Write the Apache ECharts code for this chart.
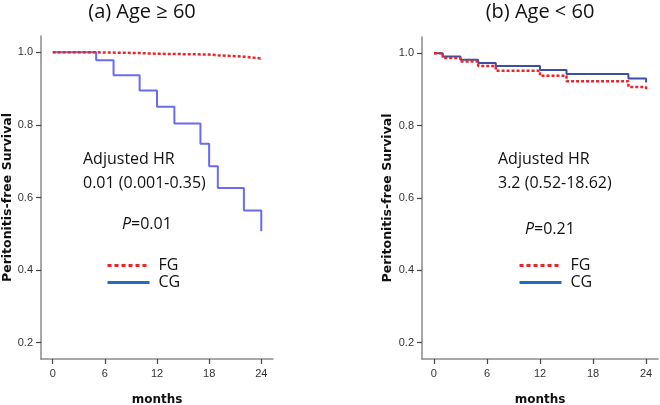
<!DOCTYPE html>
<html><head><meta charset="utf-8">
<script src="https://cdn.jsdelivr.net/npm/echarts@6/dist/echarts.min.js"></script>
<style>html,body{margin:0;padding:0;background:#fff}#c{width:660px;height:405px}</style>
</head><body><div id="c"></div>
<script>
// ---- data ----
const xTicks = [0, 6, 12, 18, 24];
const yTicks = [0.2, 0.4, 0.6, 0.8, 1.0];
// (a) Age >= 60
const aFgMonths = [0, 5, 10, 12, 18, 19, 22, 24];
const aFgSurv   = [1.0, 0.998, 0.996, 0.994, 0.992, 0.988, 0.983, 0.979];
const aCgMonths = [0, 5, 7, 10, 12, 14, 17, 18, 19, 22, 24];
const aCgSurv   = [1.0, 0.978, 0.937, 0.895, 0.850, 0.804, 0.748, 0.686, 0.626, 0.564, 0.507];
// (b) Age < 60
const bFgMonths = [0, 1, 3, 5, 7, 12, 15, 22, 24];
const bFgSurv   = [1.0, 0.987, 0.977, 0.965, 0.952, 0.938, 0.923, 0.907, 0.897];
const bCgMonths = [0, 1, 3, 5, 7, 12, 15, 22, 24];
const bCgSurv   = [1.0, 0.991, 0.982, 0.973, 0.965, 0.954, 0.943, 0.930, 0.919];
const titles = ['(a) Age \u2265 60', '(b) Age < 60'];
const hrText = [['Adjusted HR', '0.01 (0.001-0.35)'], ['Adjusted HR', '3.2 (0.52-18.62)']];
const pText = ['0.01', '0.21'];

const pair = (m, s) => m.map((v, i) => [v, s[i]]);
const txtFont = '"Open Sans", sans-serif';
const axisFont = '"Liberation Sans", Arial, sans-serif';
const titleFont = '"DejaVu Sans", sans-serif';

function xAxis(idx) {
  return {
    type: 'value', gridIndex: idx, min: -1.35, max: 25.35,
    name: 'months', nameLocation: 'middle', nameGap: 35,
    nameTextStyle: { fontFamily: titleFont, fontWeight: 'bold', fontSize: 12, color: '#111' },
    axisLine: { show: true, onZero: false, lineStyle: { color: '#8a8a8a', width: 1.5 } },
    axisTick: { show: true, inside: false, length: 5, customValues: xTicks, lineStyle: { color: '#444', width: 1.2 } },
    axisLabel: { customValues: xTicks, margin: 9, fontFamily: axisFont, fontSize: 11, color: '#333' },
    splitLine: { show: false }
  };
}
function yAxis(idx, gap) {
  return {
    type: 'value', gridIndex: idx, min: 0.155, max: 1.045,
    name: 'Peritonitis-free Survival', nameLocation: 'middle', nameGap: gap,
    nameTextStyle: { fontFamily: titleFont, fontWeight: 'bold', fontSize: 12.5, color: '#111' },
    axisLine: { show: true, onZero: false, lineStyle: { color: '#8a8a8a', width: 1.5 } },
    axisTick: { show: true, length: 5, customValues: yTicks, lineStyle: { color: '#444', width: 1.2 } },
    axisLabel: { customValues: yTicks, margin: 8, fontFamily: axisFont, fontSize: 11, color: '#333',
      formatter: v => v.toFixed(1) },
    splitLine: { show: false }
  };
}
const fgStyle = { color: '#e8262a', width: 2.5, type: [3, 2] };
const legendData = [
  { name: 'FG', lineStyle: { color: '#e8262a', width: 3, type: [4, 3] }, itemStyle: { opacity: 0 } },
  { name: 'CG', lineStyle: { color: '#1f6ebf', width: 3, type: 'solid' }, itemStyle: { opacity: 0 } }
];
function legend(left) {
  return { left: left, top: 252, orient: 'vertical', itemWidth: 42, itemHeight: 12, itemGap: 0,
    textStyle: { fontFamily: txtFont, fontSize: 16, color: '#111', lineHeight: 17, padding: [0, 0, 0, 4] },
    data: legendData };
}

const option = {
  animation: false,
  backgroundColor: '#fff',
  title: [
    { text: titles[0], left: 137, top: -3, textAlign: 'center',
      textStyle: { fontFamily: txtFont, fontWeight: 'normal', fontSize: 20, color: '#111' } },
    { text: titles[1], left: 535, top: -3, textAlign: 'center',
      textStyle: { fontFamily: txtFont, fontWeight: 'normal', fontSize: 20, color: '#111' } }
  ],
  grid: [
    { left: 41, top: 36, width: 232, height: 323, outerBoundsMode: 'none', containLabel: false },
    { left: 422, top: 37, width: 236, height: 322, outerBoundsMode: 'none', containLabel: false }
  ],
  xAxis: [xAxis(0), xAxis(1)],
  yAxis: [yAxis(0, 21), yAxis(1, 28)],
  legend: [legend(101), legend(513)],
  series: [
    { name: 'FG', type: 'line', step: 'end', xAxisIndex: 0, yAxisIndex: 0, symbol: 'none',
      data: pair(aFgMonths, aFgSurv), lineStyle: fgStyle, itemStyle: { color: '#e8262a' }, z: 3 },
    { name: 'CG', type: 'line', step: 'end', xAxisIndex: 0, yAxisIndex: 0, symbol: 'none',
      data: pair(aCgMonths, aCgSurv), lineStyle: { color: '#6a6af0', width: 2 }, itemStyle: { color: '#6a6af0' }, z: 2 },
    { name: 'FG', type: 'line', step: 'end', xAxisIndex: 1, yAxisIndex: 1, symbol: 'none',
      data: pair(bFgMonths, bFgSurv), lineStyle: fgStyle, itemStyle: { color: '#e8262a' }, z: 3 },
    { name: 'CG', type: 'line', step: 'end', xAxisIndex: 1, yAxisIndex: 1, symbol: 'none',
      data: pair(bCgMonths, bCgSurv), lineStyle: { color: '#3d4fa3', width: 2 }, itemStyle: { color: '#3d4fa3' }, z: 2 }
  ],
  graphic: [
    { type: 'text', left: 83, top: 147, style: { text: hrText[0][0] + '\n' + hrText[0][1], font: '16px ' + txtFont, fill: '#111', lineHeight: 24 } },
    { type: 'text', left: 122, top: 216, style: { text: '{i|P}=' + pText[0], font: '16px ' + txtFont, fill: '#111',
      rich: { i: { fontStyle: 'italic', fontFamily: txtFont, fontSize: 16, fill: '#111' } } } },
    { type: 'text', left: 498, top: 147, style: { text: hrText[1][0] + '\n' + hrText[1][1], font: '16px ' + txtFont, fill: '#111', lineHeight: 24 } },
    { type: 'text', left: 525, top: 221, style: { text: '{i|P}=' + pText[1], font: '16px ' + txtFont, fill: '#111',
      rich: { i: { fontStyle: 'italic', fontFamily: txtFont, fontSize: 16, fill: '#111' } } } }
  ]
};
const chart = echarts.init(document.getElementById('c'), null, { renderer: 'canvas' });
chart.setOption(option);
</script></body></html>
